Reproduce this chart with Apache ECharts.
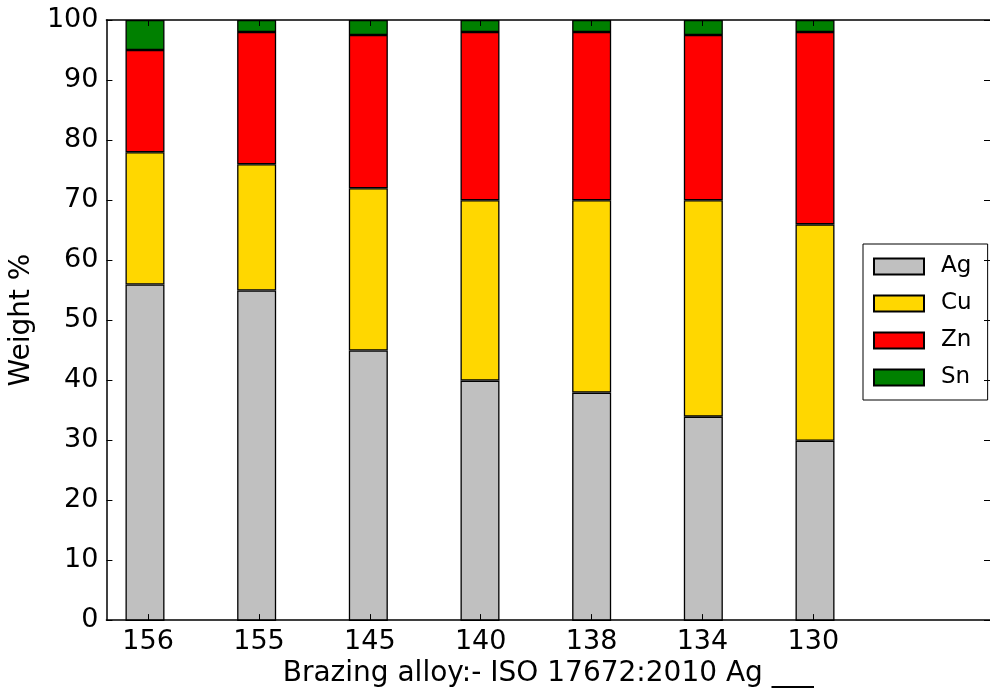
<!DOCTYPE html>
<html>
<head>
<meta charset="utf-8">
<script src="https://cdn.jsdelivr.net/npm/echarts@6/dist/echarts.min.js"></script>
<style>
  html, body { margin: 0; padding: 0; background: #fff; }
  #chart { width: 990px; height: 693px; }
</style>
</head>
<body>
<div id="chart"></div>
<script>
// Brazing alloy designations (ISO 17672:2010 Ag ___)
const alloys = ['156', '155', '145', '140', '138', '134', '130'];
// Composition, weight %
const ag = [56, 55, 45, 40, 38, 34, 30];
const cu = [22, 21, 27, 30, 32, 36, 36];
const zn = [17, 22, 25.5, 28, 28, 27.5, 32];
const sn = [5, 2, 2.5, 2, 2, 2.5, 2];
const yTicks = [0, 10, 20, 30, 40, 50, 60, 70, 80, 90, 100];

const FONT = 'DejaVu Sans';
const positions = alloys.map((_, i) => i);

const parts = [
  { name: 'Ag', color: '#c0c0c0', values: ag },
  { name: 'Cu', color: '#ffd700', values: cu },
  { name: 'Zn', color: '#ff0000', values: zn },
  { name: 'Sn', color: '#008000', values: sn }
];

// Frame axes span x from -0.376 to 7.594 (one unit = one alloy slot)
const xMin = -0.376, xMax = 7.594;
const frameLeft = 103, frameWidth = 890, frameTop = 20, frameHeight = 601;
const unit = frameWidth / (xMax - xMin);
// Bar grid: 8 category bands of one unit, band 0 centred on x = 0
const bandCount = 8;
const barLeft = frameLeft + (-0.5 - xMin) * unit;
const bandCats = alloys.concat(['']);

const chart = echarts.init(document.getElementById('chart'), null, { renderer: 'canvas' });
chart.setOption({
  animation: false,
  backgroundColor: '#fff',
  textStyle: { fontFamily: FONT },
  grid: [
    { left: frameLeft, top: frameTop, width: frameWidth, height: frameHeight, containLabel: false },
    { left: barLeft, top: frameTop, width: bandCount * unit, height: frameHeight, containLabel: false }
  ],
  legend: {
    orient: 'vertical',
    left: 863,
    top: 244,
    padding: [11, 16, 11, 10],
    itemWidth: 50,
    itemHeight: 16,
    itemGap: 14,
    icon: 'rect',
    borderColor: '#000',
    borderWidth: 1,
    backgroundColor: '#fff',
    textStyle: { fontFamily: FONT, fontSize: 23, color: '#000', padding: [0, 0, 0, 12] },
    data: parts.map(p => p.name)
  },
  xAxis: [
    {
      gridIndex: 0,
      type: 'value',
      position: 'bottom',
      z: 5,
      min: xMin,
      max: xMax,
      name: 'Brazing alloy:- ISO 17672:2010 Ag ___',
      nameLocation: 'middle',
      nameGap: 36,
      nameTextStyle: { fontFamily: FONT, fontSize: 28, color: '#000' },
      axisLine: { show: true, onZero: false, lineStyle: { color: '#000', width: 1.5 } },
      axisTick: { show: true, inside: true, length: 6, customValues: positions, lineStyle: { color: '#000' } },
      axisLabel: {
        show: true,
        customValues: positions,
        margin: 8,
        fontFamily: FONT,
        fontSize: 27,
        color: '#000',
        formatter: v => alloys[Math.round(v)]
      },
      splitLine: { show: false }
    },
    {
      gridIndex: 0,
      type: 'value',
      position: 'top',
      z: 5,
      min: xMin,
      max: xMax,
      axisLine: { show: true, onZero: false, lineStyle: { color: '#000', width: 1.5 } },
      axisTick: { show: true, inside: true, length: 6, customValues: positions, lineStyle: { color: '#000' } },
      axisLabel: { show: false },
      splitLine: { show: false }
    },
    {
      gridIndex: 1,
      type: 'category',
      data: bandCats,
      boundaryGap: true,
      show: false
    }
  ],
  yAxis: [
    {
      gridIndex: 0,
      type: 'value',
      position: 'left',
      z: 5,
      min: 0,
      max: 100,
      interval: 10,
      name: 'Weight %',
      nameLocation: 'middle',
      nameGap: 55,
      nameRotate: 90,
      nameTextStyle: { fontFamily: FONT, fontSize: 28, color: '#000' },
      axisLine: { show: true, onZero: false, lineStyle: { color: '#000', width: 1.5 } },
      axisTick: { show: true, inside: true, length: 6, lineStyle: { color: '#000' } },
      axisLabel: {
        fontFamily: FONT,
        fontSize: 27,
        color: '#000',
        margin: 8,
        formatter: v => (yTicks.includes(v) ? String(v) : '')
      },
      splitLine: { show: false }
    },
    {
      gridIndex: 0,
      type: 'value',
      position: 'right',
      z: 5,
      min: 0,
      max: 100,
      interval: 10,
      axisLine: { show: false, onZero: false },
      axisTick: { show: true, inside: true, length: 6, lineStyle: { color: '#000' } },
      axisLabel: { show: false },
      splitLine: { show: false }
    },
    {
      gridIndex: 1,
      type: 'value',
      min: 0,
      max: 100,
      show: false
    }
  ],
  series: parts.map(p => ({
    name: p.name,
    type: 'bar',
    stack: 'composition',
    xAxisIndex: 2,
    yAxisIndex: 2,
    barWidth: 39,
    itemStyle: { color: p.color, borderColor: '#000', borderWidth: 1.3 },
    data: p.values
  }))
});
</script>
</body>
</html>
